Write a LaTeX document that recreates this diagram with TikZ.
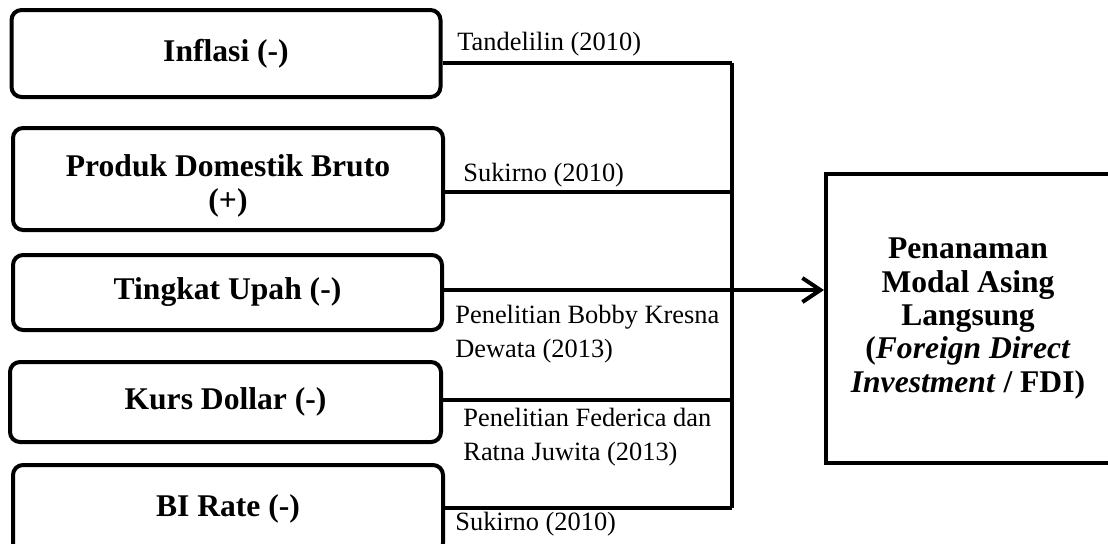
\documentclass[tikz,border=0pt]{standalone}
\usepackage{fontspec}
\setmainfont{Liberation Serif}
\usetikzlibrary{arrows.meta}

\begin{document}
\begin{tikzpicture}[x=0.5pt, y=-0.5pt,
  varbox/.style={draw, line width=2pt, rounded corners=5pt, align=center, inner sep=0pt,
    font=\fontsize{15.8}{17}\selectfont\bfseries},
  hasilbox/.style={draw, line width=2pt, align=center, inner sep=0pt,
    font=\fontsize{15.8}{16.7}\selectfont\bfseries},
  garis/.style={line width=2pt},
  sumber/.style={anchor=base west, align=left, inner sep=0pt,
    font=\fontsize{13.2}{17}\selectfont}]
\useasboundingbox (0,0) rectangle (1108,543);
\clip (0,0) rectangle (1108,543);

% Variabel bebas (kiri)
\node[varbox, minimum width=214.5pt, minimum height=43.5pt] (infl) at (226,53.5) {Inflasi (-)};
\node[varbox, minimum width=215pt, minimum height=51pt] (pdb) at (228,179) {\rule{0pt}{18pt}Produk Domestik Bruto\\(+)};
\node[varbox, minimum width=214.5pt, minimum height=37.5pt] (upah) at (227.5,292.5) {Tingkat Upah (-)};
\node[varbox, minimum width=215.5pt, minimum height=40pt] (kurs) at (225.5,402) {Kurs Dollar (-)};
\node[varbox, minimum width=215pt, minimum height=44pt] (bi) at (228,509) {BI Rate (-)};

% Variabel terikat (kanan)
\node[hasilbox, minimum width=142pt, minimum height=144.5pt] (fdi) at (968,318.5)
  {Penanaman\\Modal Asing\\Langsung\\(\textit{Foreign Direct}\\\textit{Investment} / FDI)};

% Titik pada garis tegak
\coordinate (b1) at (732,63);
\coordinate (b2) at (732,192);
\coordinate (b3) at (732,290);
\coordinate (b4) at (732,400);
\coordinate (b5) at (732,508);

% Garis penghubung
\draw[garis] (infl.east |- b1) -- (b1);
\draw[garis] (pdb.east |- b2) -- (b2);
\draw[garis] (kurs.east |- b4) -- (b4);
\draw[garis] (bi.east |- b5) -- (b5);
\draw[garis] (b1) -- (b5);
\draw[garis, -{Straight Barb[length=9pt, width=12pt]}] (upah.east |- b3) -- (fdi.west |- b3);

% Sumber teori
\node[sumber] (s1) at (457,50) {Tandelilin (2010)};
\node[sumber] (s2) at (463,181) {Sukirno (2010)};
\node[sumber] (s3) at (455,357) {Penelitian Bobby Kresna\\Dewata (2013)};
\node[sumber] (s4) at (463,460) {Penelitian Federica dan\\Ratna Juwita (2013)};
\node[sumber] (s5) at (455,530) {Sukirno (2010)};
\end{tikzpicture}
\end{document}
